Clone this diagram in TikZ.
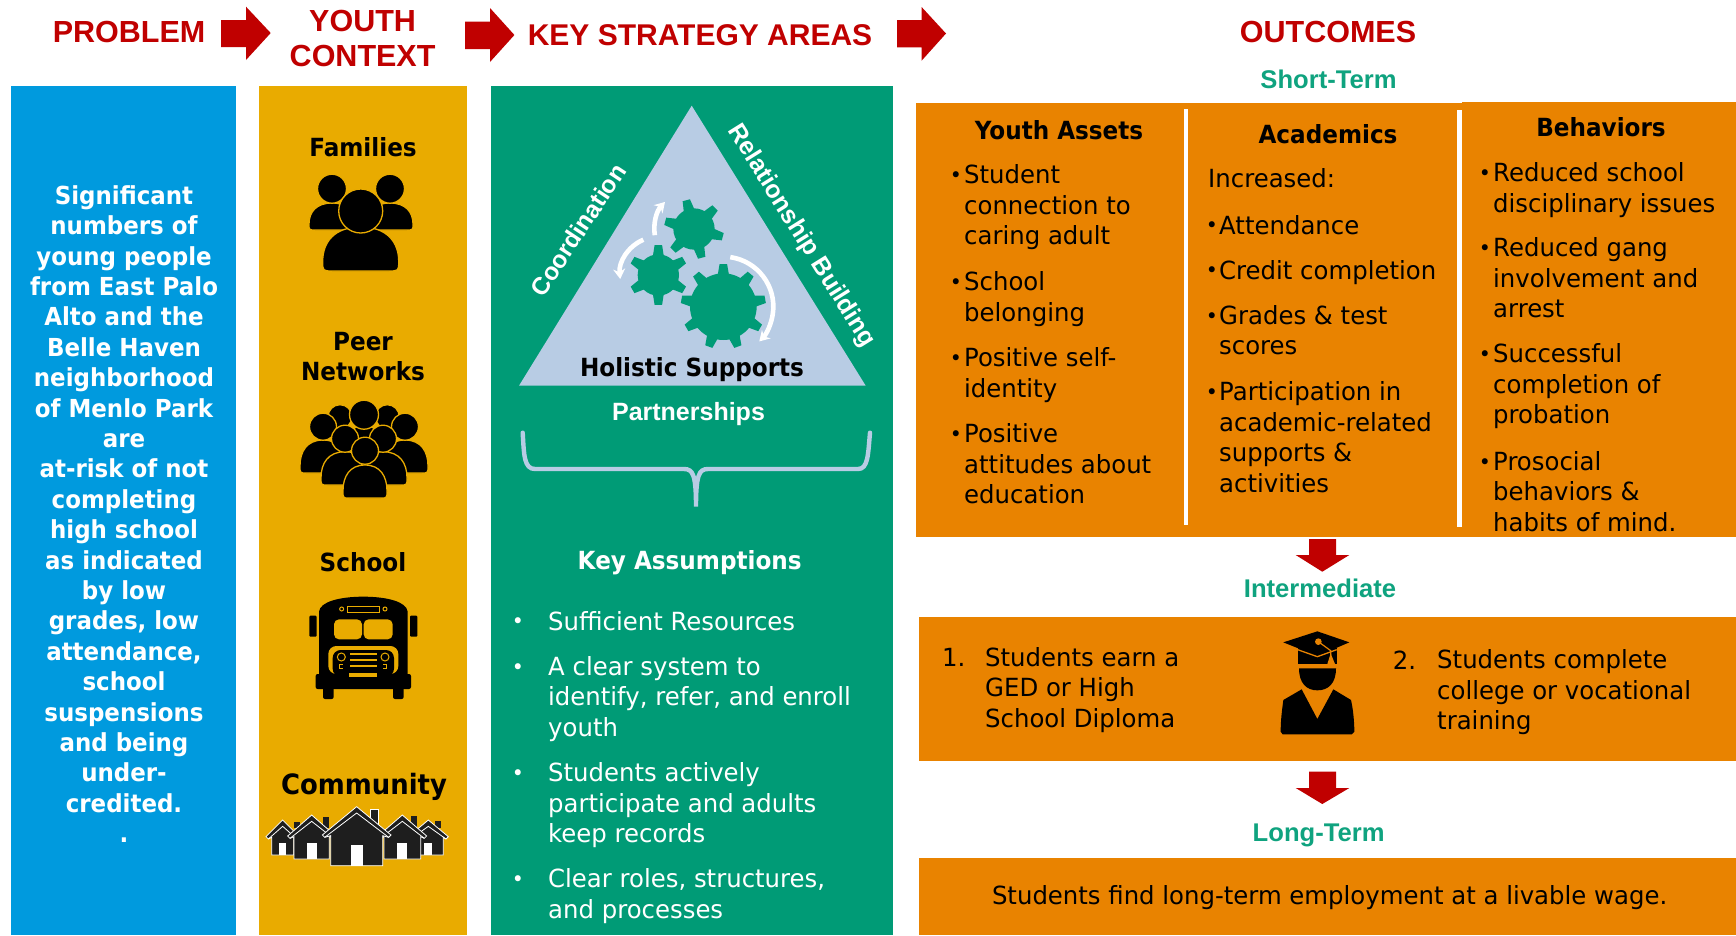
\documentclass[tikz,border=0pt]{standalone}
\usepackage{fontspec}
\setmainfont{DejaVu Sans}
\newfontfamily\bodyf{DejaVu Sans}[FakeStretch=0.975]
\newfontfamily\boldf{DejaVu Sans Bold}[FakeStretch=0.925]
\newfontfamily\headf{Liberation Sans Bold}
\usetikzlibrary{arrows.meta}
\definecolor{cblue}{HTML}{009ADE}
\definecolor{cyellow}{HTML}{E9AB00}
\definecolor{cgreen}{HTML}{009B76}
\definecolor{corange}{HTML}{E98300}
\definecolor{cred}{HTML}{C00000}
\definecolor{ctri}{HTML}{B8CCE4}
\definecolor{ctext}{HTML}{0FA37F}
\definecolor{chouse}{HTML}{1E1E1E}
\tikzset{
  panel/.style={fill=#1,draw=none},
  head/.style={font=\headf\fontsize{30.5}{35}\selectfont,text=cred,inner sep=0pt,anchor=base},
  phase/.style={font=\headf\fontsize{25.6}{30}\selectfont,text=ctext,inner sep=0pt,anchor=base,yshift=-0.8pt},
  label/.style={font=\boldf\fontsize{25}{30}\selectfont,inner sep=0pt,anchor=base,yshift=-0.8pt},
  bodyl/.style={font=\bodyf\fontsize{25}{30.5}\selectfont,inner sep=0pt,align=left,anchor=north west,yshift=21.35pt,execute at begin node=\strut},
  bodym/.style={bodyl,yshift=-2pt},
  boldc/.style={font=\boldf\fontsize{24.8}{30.4}\selectfont,inner sep=0pt,align=center,anchor=north,yshift=18.5pt,execute at begin node=\strut},
  dot/.style={font=\bodyf\fontsize{21}{30.5}\selectfont,inner sep=0pt,anchor=base,yshift=1.4pt},
  side/.style={font=\headf\fontsize{25}{30}\selectfont,text=white,inner sep=0pt},
  icon/.style={fill=black,draw=cyellow,line width=1.3pt},
  zoomed/.style 2 args={shift={(#1pt,-#2pt)},x=0.33333pt,y=-0.33333pt},
  arc white/.style={draw=white,line width=4.6pt,-{Stealth[length=10pt,width=12pt]}},
}
% bust: cx, head cy, head r, half width, body top, body bottom
\newcommand\bust[6]{%
  \pgfmathsetmacro\bl{#1-#4}\pgfmathsetmacro\br{#1+#4}%
  \pgfmathsetmacro\bla{#1-0.7*#4}\pgfmathsetmacro\bra{#1+0.7*#4}%
  \pgfmathsetmacro\bm{#5+0.35*(#6-#5)}\pgfmathsetmacro\bn{#6-0.22*(#6-#5)}%
  \pgfmathsetmacro\cnl{#1-0.72*#4}\pgfmathsetmacro\cnr{#1+0.72*#4}%
  \filldraw[icon] (\bl,\bn) .. controls (\bl,\bm) and (\bla,#5) .. (#1,#5)
     .. controls (\bra,#5) and (\br,\bm) .. (\br,\bn)
     .. controls (\br,#6) and (\br,#6) .. (\cnr,#6)
     -- (\cnl,#6) .. controls (\bl,#6) and (\bl,#6) .. (\bl,\bn) -- cycle;
  \filldraw[icon] (#1,#2) circle[radius=#3];}
\newcommand\gear[6]{% cx cy r R n phase
  \fill[cgreen] (#1,#2) circle[radius=#3];
  \pgfmathsetmacro\gstep{360/#5}%
  \foreach \k in {1,...,#5}{%
    \pgfmathsetmacro\ga{#6+\k*\gstep}%
    \pgfmathsetmacro\wa{1000/#3}\pgfmathsetmacro\wb{650/#4}%
    \fill[cgreen] ([shift={(\ga-\wa:#3-3)}]#1,#2) -- ([shift={(\ga-\wb:#4)}]#1,#2) -- ([shift={(\ga+\wb:#4)}]#1,#2) -- ([shift={(\ga+\wa:#3-3)}]#1,#2) -- cycle;}}
% house: cx apexy eavehalf eavey wallhalf bottom doorhalf doortop
\newcommand\house[8]{%
  \filldraw[fill=chouse,draw=white,line width=0.8pt,line join=miter]
     (#1-#3,#4) -- (#1,#2) -- (#1+#3,#4) -- (#1+#3-7,#4+7) -- (#1+#5,#4+2) -- (#1+#5,#6) -- (#1-#5,#6) -- (#1-#5,#4+2) -- (#1-#3+7,#4+7) -- cycle;
  \draw[white,line width=0.8pt] (#1-#3+7,#4+7) -- (#1,#2+19) -- (#1+#3-7,#4+7);
  \fill[white] (#1-#7,#8) rectangle (#1+#7,#6);}
\begin{document}
\begin{tikzpicture}[x=1pt,y=-1pt]
\useasboundingbox (0,0) rectangle (1736,935);
\fill[white] (0,0) rectangle (1736,935);
% panels
\fill[panel=cblue] (11,86) rectangle (236.4,935);
\fill[panel=cyellow] (259,86) rectangle (467,935);
\fill[panel=cgreen] (491,86) rectangle (893,935);
\fill[panel=corange] (916,103) rectangle (1462,537);
\fill[panel=corange] (1462,102) rectangle (1736,537);
\fill[white] (1183.6,108.7) rectangle (1188,525);
\fill[white] (1457,110) rectangle (1462,527);
\fill[panel=corange] (919,616.5) rectangle (1736,760.5);
\fill[panel=corange] (919,858) rectangle (1736,935);
% header arrows
\fill[cred] (221,20) -- (246,20) -- (246,6.7) -- (270.7,33) -- (246,60) -- (246,47) -- (221,47) -- cycle;
\fill[cred] (465,21.7) -- (490,21.7) -- (490,8) -- (514.4,35) -- (490,62) -- (490,49) -- (465,49) -- cycle;
\fill[cred] (897,20) -- (921.6,20) -- (921.6,7) -- (946,33.5) -- (921.6,60.7) -- (921.6,47.3) -- (897,47.3) -- cycle;
% down arrows
\fill[cred] (1309,539) -- (1336,539) -- (1336,555) -- (1349.3,555) -- (1322.3,571.7) -- (1295.7,555) -- (1309,555) -- cycle;
\fill[cred] (1309,771.7) -- (1336,771.7) -- (1336,788) -- (1349.3,788) -- (1322.3,804) -- (1295.7,788) -- (1309,788) -- cycle;
% headings
\node[head] (hproblem) at (129,42.7) {PROBLEM};
\node[head] (hyouth) at (362.6,31) {YOUTH};
\node[head] (hcontext) at (362.6,66.7) {CONTEXT};
\node[head,font=\headf\fontsize{30}{35}\selectfont] (hkey) at (700,45) {KEY STRATEGY AREAS};
\node[head] (houtcomes) at (1328,42.7) {OUTCOMES};
\node[phase] (pshort) at (1328.5,87.7) {Short-Term};
\node[phase] (pinter) at (1320,597) {Intermediate};
\node[phase] (plong) at (1318.6,841) {Long-Term};
% problem text
\node[boldc,text=white] (problem) at (124,203.8) {Significant\\numbers of\\young people\\from East Palo\\Alto and the\\Belle Haven\\neighborhood\\of Menlo Park\\are\\at-risk of not\\completing\\high school\\as indicated\\by low\\grades, low\\attendance,\\school\\suspensions\\and being\\under-\\credited.\\.};
% youth context
\node[label] (lfam) at (363,156) {Families};
\node[label] (lpeer) at (363,349.3) {Peer};
\node[label] (lnet) at (363,380) {Networks};
\node[label] (lschool) at (363,571) {School};
\node[label,font=\boldf\fontsize{28}{32}\selectfont] (lcomm) at (364,794) {Community};
% families icon
\bust{332}{188.7}{14.5}{23}{203}{230}
\bust{390}{188.7}{14.5}{23}{203}{230}
\bust{360.7}{211}{22}{38}{227}{271}
% peers icon
\filldraw[icon] (340,416.7) circle[radius=12];
\filldraw[icon] (387.3,416.7) circle[radius=12];
\bust{364}{414.7}{14.5}{20}{425}{470}
\bust{323}{426.7}{13.5}{23}{440}{473}
\bust{405}{426.7}{13.5}{23}{440}{473}
\bust{345}{438.7}{13.5}{24}{451.7}{485}
\bust{383}{438.7}{13.5}{24}{451.7}{485}
\bust{365}{450.7}{13.5}{22}{465}{498}
% bus icon
\begin{scope}[zoomed={240}{520}]
  \fill[black] (237,462) -- (237,275) .. controls (240,245) and (300,230) .. (370,230) .. controls (440,230) and (500,245) .. (503,275) -- (503,462) -- cycle;
  \fill[black,rounded corners=1pt] (208,287) rectangle (230,350);
  \fill[black,rounded corners=1pt] (510,287) rectangle (532,350);
  \fill[cyellow,rounded corners=5pt] (282,298) rectangle (366,358);
  \fill[cyellow,rounded corners=5pt] (371,298) rectangle (458,358);
  \draw[cyellow,line width=1pt] (322,259) rectangle (418,276);
  \draw[cyellow,line width=1pt] (305,267) circle[radius=6];
  \draw[cyellow,line width=1pt] (435,267) circle[radius=6];
  \fill[cyellow,rounded corners=8pt] (265,462) -- (265,378) -- (475,378) -- (475,462) -- cycle;
  \fill[black,rounded corners=8pt] (278,470) -- (278,390) -- (462,390) -- (462,470) -- cycle;
  \draw[cyellow,line width=1pt] (304,411) circle[radius=12];
  \draw[cyellow,line width=1pt] (435,411) circle[radius=12];
  \fill[cyellow] (330,400) rectangle (410,405);
  \fill[cyellow] (330,418) rectangle (410,423);
  \fill[cyellow] (330,436) rectangle (410,441);
  \fill[cyellow] (297,433) rectangle (310,447);
  \fill[cyellow] (428,433) rectangle (441,447);
  \fill[black] (299,436) rectangle (308,445);
  \fill[black] (430,436) rectangle (439,445);
  \fill[black,rounded corners=2pt] (227,462) rectangle (513,507);
  \fill[cyellow] (328,460) rectangle (410,470);
  \fill[black,rounded corners=2pt] (249,500) rectangle (281,537);
  \fill[black,rounded corners=2pt] (459,500) rectangle (491,537);
\end{scope}
% houses icon
\begin{scope}[zoomed={240}{520}]
  \fill[chouse] (163,905) rectangle (180,925);
  \fill[chouse] (586,903) rectangle (603,925);
  \house{128}{900}{50}{950}{33}{1005}{11}{968}
  \house{565}{900}{60}{950}{45}{1005}{12}{968}
  \fill[chouse] (250,890) rectangle (268,925);
  \fill[chouse] (512,888) rectangle (530,925);
  \house{215}{885}{72}{948}{53}{1017}{15}{970}
  \house{487}{885}{73}{948}{55}{1017}{15}{970}
  \filldraw[fill=chouse,draw=white,line width=0.8pt] (390,868) rectangle (415,925);
  \house{350}{860}{103}{945}{78}{1037}{18}{975}
\end{scope}
% triangle
\fill[ctri] (691.7,105.7) -- (865.7,385.7) -- (519,385.7) -- cycle;
\begin{scope}[zoomed={490}{90}]
  \gear{700}{650}{100}{128}{9}{-90}
  \gear{505}{555}{62}{90}{6}{-90}
  \gear{612}{417}{62}{90}{6}{-105}
  \draw[arc white] (700,650) ++(-82:150) arc[start angle=-82,end angle=44,radius=150];
  \draw[arc white] (505,555) ++(-113:115) arc[start angle=-113,end angle=-186,radius=115];
  \draw[arc white] (612,417) ++(171:119) arc[start angle=171,end angle=223,radius=119];
\end{scope}
\node[label] (lhol) at (692,375.7) {Holistic Supports};
\node[side,anchor=base,yshift=-0.8pt] (lpart) at (688.5,420) {Partnerships};
\node[side,rotate=56.5,font=\headf\fontsize{24.5}{30}\selectfont] (lcoord) at (578,230) {Coordination};
\node[side,rotate=-58] (lrel) at (801.2,236.2) {Relationship Building};
% brace
\draw[ctri,line width=4.4pt,line cap=round] (522.7,432.7) .. controls (524,455) and (524,469) .. (535,469) -- (684,469) .. controls (693,469) and (696,475) .. (696,506.7) .. controls (696,475) and (699,469) .. (708,469) -- (858,469) .. controls (868,469) and (868,455) .. (870,432.7);
% assumptions
\node[label,text=white] (lkey) at (689.7,569) {Key Assumptions};
\node[dot,text=white] (b1) at (518,630) {•};
\node[bodyl,text=white] (t1) at (548,630) {Sufficient Resources};
\node[dot,text=white] (b2) at (518,675.5) {•};
\node[bodym,text=white] (t2) at (548,675.5) {A clear system to\\identify, refer, and enroll\\youth};
\node[dot,text=white] (b3) at (518,781.7) {•};
\node[bodym,text=white] (t3) at (548,781.7) {Students actively\\participate and adults\\keep records};
\node[dot,text=white] (b4) at (518,888) {•};
\node[bodym,text=white] (t4) at (548,888) {Clear roles, structures,\\and processes};
% short-term
\node[label] (lya) at (1059,138.7) {Youth Assets};
\node[label] (lac) at (1328,142.7) {Academics};
\node[label] (lbe) at (1601,136) {Behaviors};
\node[dot] (y1b) at (956,184) {•};
\node[bodym] (y1) at (964,184) {Student\\connection to\\caring adult};
\node[dot] (y2b) at (956,291) {•};
\node[bodym] (y2) at (964,291) {School\\belonging};
\node[dot] (y3b) at (956,367) {•};
\node[bodym] (y3) at (964,367) {Positive self-\\identity};
\node[dot] (y4b) at (956,443) {•};
\node[bodym] (y4) at (964,443) {Positive\\attitudes about\\education};
\node[bodyl] (a0) at (1208,187.6) {Increased:};
\node[dot] (a1b) at (1212,234) {•};
\node[bodyl] (a1) at (1219,234) {Attendance};
\node[dot] (a2b) at (1212,279) {•};
\node[bodyl] (a2) at (1219,279) {Credit completion};
\node[dot] (a3b) at (1212,324.5) {•};
\node[bodym] (a3) at (1219,324.5) {Grades \& test\\scores};
\node[dot] (a4b) at (1212,401) {•};
\node[bodym] (a4) at (1219,401) {Participation in\\academic-related\\supports \&\\activities};
\node[dot] (c1b) at (1485,182) {•};
\node[bodym] (c1) at (1493,182) {Reduced school\\disciplinary issues};
\node[dot] (c2b) at (1485,257) {•};
\node[bodym] (c2) at (1493,257) {Reduced gang\\involvement and\\arrest};
\node[dot] (c3b) at (1485,363) {•};
\node[bodym] (c3) at (1493,363) {Successful\\completion of\\probation};
\node[dot] (c4b) at (1485,470.6) {•};
\node[bodym] (c4) at (1493,470.6) {Prosocial\\behaviors \&\\habits of mind.};
% intermediate
\node[bodyl] (i1n) at (942,666.6) {1.};
\node[bodym] (i1) at (985,666.6) {Students earn a\\GED or High\\School Diploma};
\node[bodyl] (i2n) at (1392.7,669) {2.};
\node[bodym] (i2) at (1437,669) {Students complete\\college or vocational\\training};
% graduate icon
\begin{scope}[zoomed={1240}{520}]
  \fill[black] (173,385) -- (290,385) -- (290,432) -- (173,432) -- cycle;
  \fill[black] (177,445) -- (288,445) .. controls (288,490) and (265,511) .. (232,511) .. controls (200,511) and (177,490) .. (177,445) -- cycle;
  \fill[black] (130,367) -- (232,334) -- (328,367) -- (232,408) -- cycle;
  \draw[corange,line width=1.3pt] (173,389) -- (232,410) -- (290,389);
  \draw[corange,line width=1.2pt] (235,365) -- (272,392) -- (272,405);
  \fill[corange] (235,365) circle[radius=10];
  \fill[corange] (272,400) -- (262,432) -- (285,432) -- cycle;
  \fill[black] (185,508) -- (232,597) -- (280,508) -- (333,540) .. controls (340,570) and (343,610) .. (343,635) -- (335,643) -- (128,643) -- (122,635) .. controls (122,600) and (126,570) .. (130,540) -- cycle;
\end{scope}
% long term
\node[font=\bodyf\fontsize{25}{30.5}\selectfont,inner sep=0pt,anchor=base] (lt) at (1329.6,904.6) {Students find long-term employment at a livable wage.};
\end{tikzpicture}
\end{document}
